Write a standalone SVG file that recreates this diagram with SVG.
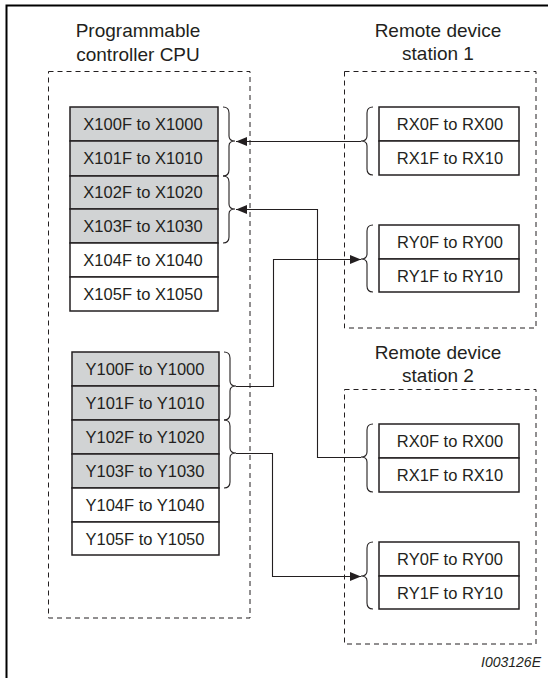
<svg xmlns="http://www.w3.org/2000/svg" width="548" height="678" viewBox="0 0 548 678">
<defs>
<style>
.frame{fill:none;stroke:#000;stroke-width:2}
.dash{fill:none;stroke:#231f20;stroke-width:1;stroke-dasharray:5,4}
.g{fill:#d1d3d4;stroke:#231f20;stroke-width:1.5}
.w{fill:#fff;stroke:#231f20;stroke-width:1.5}
.br{fill:none;stroke:#231f20;stroke-width:1.1}
.conn{fill:none;stroke:#231f20;stroke-width:1.1}
.t{font-family:"Liberation Sans",Arial,sans-serif;font-size:16.5px;fill:#231f20;text-anchor:middle}
.h{font-family:"Liberation Sans",Arial,sans-serif;font-size:19px;fill:#231f20;text-anchor:middle}
.cap{font-family:"Liberation Sans",Arial,sans-serif;font-size:14px;font-style:italic;fill:#231f20;text-anchor:end}
</style>
<marker id="arr" markerUnits="userSpaceOnUse" markerWidth="12" markerHeight="10" refX="11" refY="4.5" orient="auto">
<path d="M0,0 L11,4.5 L0,9 z" fill="#231f20"/>
</marker>
</defs>
<rect width="548" height="678" fill="#fff"/>
<path class="frame" d="M6.5,678 V5.5 H548"/>

<g id="cpu">
<text class="h" x="138" y="37">Programmable</text>
<text class="h" x="138" y="61">controller CPU</text>
<rect class="dash" x="48.5" y="71.5" width="201.5" height="546.5"/>
</g>
<g id="x-area">
<rect class="g" x="70" y="107" width="148" height="34"/><text class="t" x="143" y="130">X100F to X1000</text>
<rect class="g" x="70" y="141" width="148" height="35"/><text class="t" x="143" y="164">X101F to X1010</text>
<rect class="g" x="70" y="176" width="148" height="33"/><text class="t" x="143" y="198">X102F to X1020</text>
<rect class="g" x="70" y="209" width="148" height="34"/><text class="t" x="143" y="232">X103F to X1030</text>
<rect class="w" x="70" y="243" width="148" height="34"/><text class="t" x="143" y="266">X104F to X1040</text>
<rect class="w" x="70" y="277" width="148" height="34"/><text class="t" x="143" y="300">X105F to X1050</text>
<path class="br" d="M223,107 Q229,107 229,113 L229,136 Q229,141 235,141 Q229,141 229,146 L229,170 Q229,176 223,176"/>
<path class="br" d="M223,176 Q229,176 229,182 L229,204 Q229,209 235,209 Q229,209 229,214 L229,237 Q229,243 223,243"/>
</g>
<g id="y-area">
<rect class="g" x="72" y="352" width="147" height="34"/><text class="t" x="145" y="375">Y100F to Y1000</text>
<rect class="g" x="72" y="386" width="147" height="34"/><text class="t" x="145" y="409">Y101F to Y1010</text>
<rect class="g" x="72" y="420" width="147" height="34"/><text class="t" x="145" y="443">Y102F to Y1020</text>
<rect class="g" x="72" y="454" width="147" height="34"/><text class="t" x="145" y="477">Y103F to Y1030</text>
<rect class="w" x="72" y="488" width="147" height="34"/><text class="t" x="145" y="511">Y104F to Y1040</text>
<rect class="w" x="72" y="522" width="147" height="33"/><text class="t" x="145" y="545">Y105F to Y1050</text>
<path class="br" d="M224,352 Q230,352 230,358 L230,381 Q230,386 236,386 Q230,386 230,391 L230,414 Q230,420 224,420"/>
<path class="br" d="M224,420 Q230,420 230,426 L230,448 Q230,453 236,453 Q230,453 230,458 L230,482 Q230,488 224,488"/>
</g>

<g id="station1">
<text class="h" x="438" y="37">Remote device</text>
<text class="h" x="438" y="60">station 1</text>
<rect class="dash" x="344.5" y="71.5" width="191.5" height="256.5"/>
<rect class="w" x="379" y="107" width="140" height="34"/><text class="t" x="450" y="130">RX0F to RX00</text>
<rect class="w" x="379" y="141" width="140" height="34"/><text class="t" x="450" y="164">RX1F to RX10</text>
<rect class="w" x="379" y="225" width="140" height="34"/><text class="t" x="450" y="248">RY0F to RY00</text>
<rect class="w" x="379" y="259" width="140" height="33"/><text class="t" x="450" y="282">RY1F to RY10</text>
<path class="br" d="M373,107 Q367,107 367,113 L367,136 Q367,141 361,141 Q367,141 367,146 L367,169 Q367,175 373,175"/>
<path class="br" d="M373,225 Q367,225 367,231 L367,254 Q367,259 361,259 Q367,259 367,264 L367,286 Q367,292 373,292"/>
</g>

<g id="station2">
<text class="h" x="438" y="359">Remote device</text>
<text class="h" x="438" y="382">station 2</text>
<rect class="dash" x="344.5" y="389.5" width="191.5" height="254.5"/>
<rect class="w" x="379" y="424" width="140" height="34"/><text class="t" x="450" y="447">RX0F to RX00</text>
<rect class="w" x="379" y="458" width="140" height="34"/><text class="t" x="450" y="481">RX1F to RX10</text>
<rect class="w" x="379" y="542" width="140" height="34"/><text class="t" x="450" y="565">RY0F to RY00</text>
<rect class="w" x="379" y="576" width="140" height="33"/><text class="t" x="450" y="599">RY1F to RY10</text>
<path class="br" d="M373,424 Q367,424 367,430 L367,452 Q367,457 361,457 Q367,457 367,462 L367,486 Q367,492 373,492"/>
<path class="br" d="M373,542 Q367,542 367,548 L367,571 Q367,576 361,576 Q367,576 367,581 L367,603 Q367,609 373,609"/>
</g>

<g id="connectors">
<path class="conn" d="M361,141.5 H236" marker-end="url(#arr)"/>
<path class="conn" d="M361,457.5 H317.5 V209.5 H236" marker-end="url(#arr)"/>
<path class="conn" d="M236,386.5 H273.5 V259.5 H361" marker-end="url(#arr)"/>
<path class="conn" d="M236,453.5 H272.5 V576.5 H361" marker-end="url(#arr)"/>
</g>

<text class="cap" x="541" y="667">I003126E</text>
</svg>
